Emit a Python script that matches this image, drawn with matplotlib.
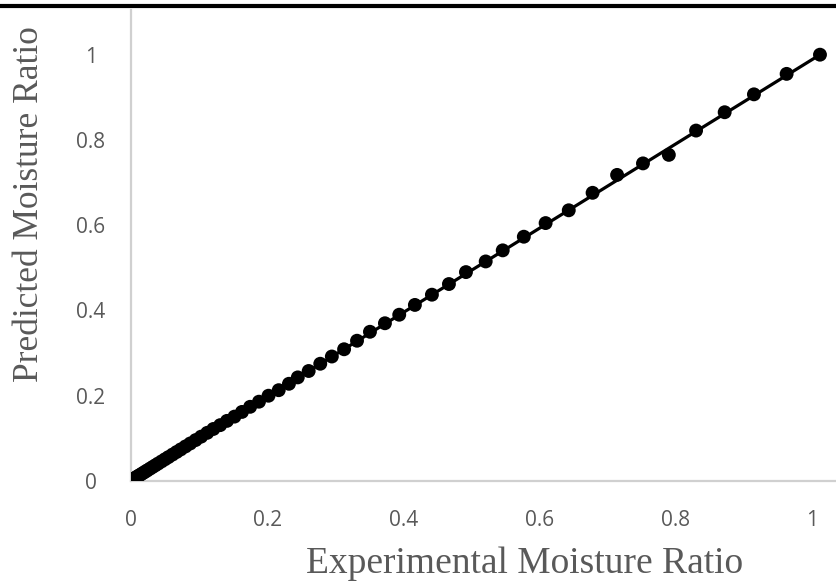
import matplotlib.pyplot as plt
from matplotlib.lines import Line2D

# experimental vs predicted moisture ratio
exp_mr = [0.003, 0.004, 0.006, 0.008, 0.010, 0.012, 0.015, 0.018, 0.021, 0.024,
          0.028, 0.032, 0.036, 0.040, 0.045, 0.050, 0.055, 0.061, 0.067, 0.073,
          0.080, 0.087, 0.095, 0.103, 0.112, 0.121, 0.131, 0.141, 0.152, 0.163,
          0.175, 0.188, 0.202, 0.217, 0.232, 0.245, 0.261, 0.278, 0.295, 0.313,
          0.332, 0.351, 0.373, 0.394, 0.417, 0.442, 0.467, 0.492, 0.521, 0.546,
          0.577, 0.609, 0.643, 0.678, 0.714, 0.752, 0.790, 0.830, 0.872, 0.915,
          0.963, 1.012]
pred_mr = [0.004, 0.005, 0.007, 0.009, 0.011, 0.013, 0.016, 0.019, 0.022, 0.025,
           0.029, 0.033, 0.037, 0.041, 0.046, 0.051, 0.056, 0.062, 0.068, 0.074,
           0.081, 0.088, 0.096, 0.104, 0.113, 0.122, 0.131, 0.141, 0.151, 0.162,
           0.174, 0.186, 0.200, 0.213, 0.228, 0.243, 0.258, 0.275, 0.292, 0.309,
           0.329, 0.350, 0.370, 0.390, 0.413, 0.437, 0.462, 0.490, 0.515, 0.541,
           0.573, 0.605, 0.635, 0.676, 0.718, 0.745, 0.765, 0.822, 0.865, 0.907,
           0.955, 1.000]

x_ticks = [0, 0.2, 0.4, 0.6, 0.8, 1]
x_ticklabels = ['0', '0.2', '0.4', '0.6', '0.8', '1']
y_ticks = [0, 0.2, 0.4, 0.6, 0.8, 1]
y_ticklabels = ['0', '0.2', '0.4', '0.6', '0.8', '1']

fig = plt.figure(figsize=(8.37, 5.84), dpi=100)
ax = fig.add_axes([0.1565, 0.1764, 0.8435, 0.8066])

# fitted line: from origin up to the last measured point
ax.plot([0, exp_mr[-1]], [0, pred_mr[-1]], color='black', linewidth=2.3, zorder=2)
ax.scatter(exp_mr, pred_mr, s=100, color='black', edgecolors='none', zorder=3)

ax.set_xlim(0, 1.037)
ax.set_ylim(0, 1.105)
ax.set_xticks(x_ticks)
ax.set_xticklabels(x_ticklabels)
ax.set_yticks(y_ticks)
ax.set_yticklabels(y_ticklabels)
ax.tick_params(length=0, labelsize=15, labelcolor='#595959')
ax.tick_params(axis='x', pad=21)
ax.tick_params(axis='y', pad=29)
for lab in ax.get_xticklabels() + ax.get_yticklabels():
    lab.set_family('Open Sans')
for lab in ax.get_yticklabels():
    lab.set_horizontalalignment('center')

for side in ['top', 'right']:
    ax.spines[side].set_visible(False)
for side in ['left', 'bottom']:
    ax.spines[side].set_color('#d0d0d0')
    ax.spines[side].set_linewidth(1.6)

fig.text(525 / 837, 1 - 564 / 584, 'Experimental Moisture Ratio',
         family='Liberation Serif', fontsize=27, color='#595959',
         ha='center', va='center')
fig.text(30 / 837, 1 - 204 / 584, 'Predicted Moisture Ratio',
         family='Liberation Serif', fontsize=25.5, color='#595959',
         ha='center', va='center', rotation=90)

# thick black rule at the top edge
fig.add_artist(Line2D([0, 1], [0.9895, 0.9895], color='black', linewidth=3,
                      transform=fig.transFigure))

fig.savefig('out.png', dpi=100)
